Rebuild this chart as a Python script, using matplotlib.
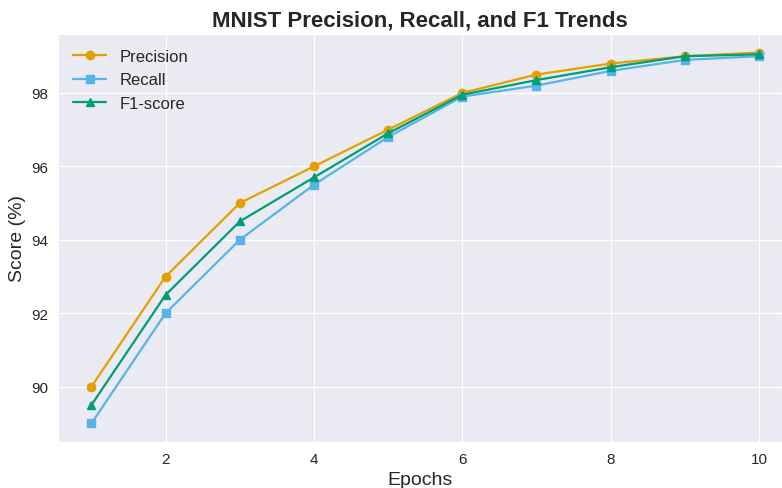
import numpy as np
import matplotlib.pyplot as plt
import seaborn as sns

sns.set_style("darkgrid")
plt.rcParams['font.family'] = ['Liberation Sans', 'DejaVu Sans']

epochs = [1, 2, 3, 4, 5, 6, 7, 8, 9, 10]
precision = [90.0, 93.0, 95.0, 96.0, 97.0, 98.0, 98.5, 98.8, 99.0, 99.1]
recall = [89.0, 92.0, 94.0, 95.5, 96.8, 97.9, 98.2, 98.6, 98.9, 99.0]
f1 = [89.5, 92.5, 94.5, 95.7, 96.9, 97.95, 98.35, 98.7, 99.0, 99.05]

fig = plt.figure(figsize=(7.82, 4.89), dpi=100)
ax = fig.add_axes([58 / 782, 1 - 443 / 489, 1 - 58 / 782, (443 - 35) / 489])

ax.plot(epochs, precision, marker='o', color='#E69F00', label='Precision', linewidth=1.6, markersize=6)
ax.plot(epochs, recall, marker='s', color='#56B4E9', label='Recall', linewidth=1.6, markersize=6)
ax.plot(epochs, f1, marker='^', color='#009E73', label='F1-score', linewidth=1.6, markersize=6)

ax.set_xlim(0.55, 10.31)
ax.set_ylim(88.495, 99.605)
ax.set_xticks([2, 4, 6, 8, 10])
ax.set_yticks([90, 92, 94, 96, 98])
ax.tick_params(labelsize=11)
ax.grid(linewidth=0.9)
ax.set_xlabel('Epochs', fontsize=14)
ax.set_ylabel('Score (%)', fontsize=14)
ax.set_title('MNIST Precision, Recall, and F1 Trends', fontsize=16, fontweight='bold')
ax.legend(fontsize=12, frameon=False, loc='upper left')

fig.savefig('out.png', dpi=100)
